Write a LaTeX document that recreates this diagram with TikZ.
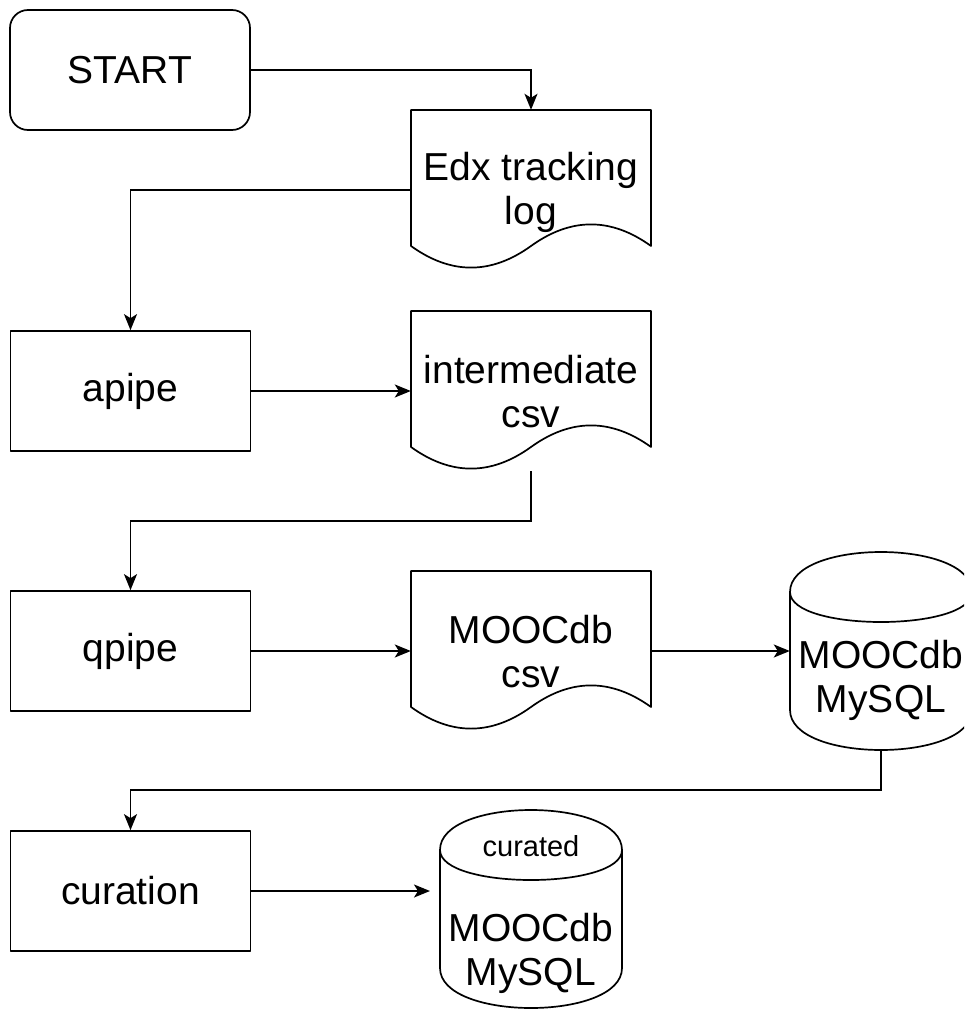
\documentclass[tikz,border=0pt]{standalone}
\usepackage{fontspec}
\setmainfont{Liberation Sans}
\usetikzlibrary{arrows.meta,calc}
\tikzset{
  shapeline/.style={draw=black, line width=1.7pt, line join=round},
  box/.style={shapeline, minimum width=240pt, minimum height=120pt, inner sep=0pt},
  ghost/.style={draw=none, inner sep=0pt},
  bigtext/.style={font=\fontsize{39}{44}\selectfont, align=center, inner sep=0pt},
  smalltext/.style={font=\fontsize{29}{34}\selectfont, align=center, inner sep=0pt},
  conn/.style={draw=black, line width=1.7pt, -{Stealth[length=16pt,width=13pt,inset=4pt]}},
}
\newcommand\docshape[2]{%
  \begin{scope}[shift={(#1,#2)}]
    \draw[shapeline, fill=white] (0,0) -- (240,0) -- (240,136)
      .. controls (200,107.2) and (160,107.2) .. (120,136)
      .. controls (80,164.8) and (40,164.8) .. (0,136) -- cycle;
  \end{scope}}
\newcommand\cylshape[2]{%
  \begin{scope}[shift={(#1,#2)}]
    \draw[shapeline, fill=white] (0,40) .. controls (0,-13.33) and (182,-13.33) .. (182,40)
      -- (182,158) .. controls (182,211.33) and (0,211.33) .. (0,158) -- cycle;
    \draw[shapeline] (0,40) .. controls (0,80) and (182,80) .. (182,40);
  \end{scope}}
\begin{document}
\begin{tikzpicture}[x=1pt, y=-1pt]
\useasboundingbox (0,0) rectangle (964,1011);
\path[clip] (0,0) rectangle (964,1011);
% left column boxes
\node[box, rounded corners=18pt, bigtext] (start) at (130,70) {START};
\node[box, bigtext] (apipe) at (130.5,391) {apipe};
\node[box, bigtext] (qpipe) at (130.5,651) {qpipe};
\node[box, bigtext] (curation) at (130.5,891) {curation};
% documents
\docshape{411}{110}
\node[ghost, minimum width=240pt, minimum height=160pt] (edx) at (531,190) {};
\node[bigtext] (edxt) at (531,192) {Edx tracking\\log};
\docshape{411}{311}
\node[ghost, minimum width=240pt, minimum height=160pt] (inter) at (531,391) {};
\node[bigtext] (intert) at (531,392) {intermediate\\csv};
\docshape{411}{571}
\node[ghost, minimum width=240pt, minimum height=160pt] (csv) at (531,651) {};
\node[bigtext] (csvt) at (531,652) {MOOCdb\\csv};
% cylinders
\cylshape{790}{552}
\node[ghost, minimum width=182pt, minimum height=198pt] (mysql) at (881,651) {};
\node[bigtext] (mysqlt) at (881,680) {MOOCdb\\MySQL};
\cylshape{440}{810}
\node[ghost, minimum width=182pt, minimum height=198pt] (curated) at (531,909) {};
\node[smalltext] (curatedt) at (531,846) {curated};
\node[bigtext] (curatedm) at (531,953) {MOOCdb\\MySQL};
\coordinate (curin) at (430,891);
% connectors
\draw[conn] (start.east) -| (edx.north);
\draw[conn] (edx.west) -| (apipe.north);
\draw[conn] (apipe.east) -- (inter.west);
\draw[conn] (inter.south) -- ++(0,50) -| (qpipe.north);
\draw[conn] (qpipe.east) -- (csv.west);
\draw[conn] (csv.east) -- (mysql.west);
\draw[conn] (mysql.south) -- ++(0,40) -| (curation.north);
\draw[conn] (curation.east) -- (curin);
\end{tikzpicture}
\end{document}
